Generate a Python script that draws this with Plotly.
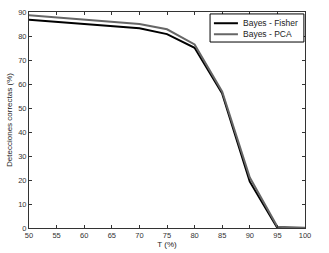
import plotly.graph_objects as go

T = [50, 55, 60, 65, 70, 75, 80, 85, 90, 95, 100]
fisher = [86.8, 85.9, 85.0, 84.1, 83.2, 80.8, 75.1, 56.0, 19.3, 0.0, 0.0]
pca = [88.6, 87.7, 86.8, 85.9, 85.0, 82.8, 76.5, 56.8, 21.0, 0.5, 0.1]

names = ["Bayes - Fisher", "Bayes - PCA"]
colors = ["#000000", "#666666"]

xticks = [50, 55, 60, 65, 70, 75, 80, 85, 90, 95, 100]
yticks = [0, 10, 20, 30, 40, 50, 60, 70, 80, 90]

fig = go.Figure()
for vals, nm, col in zip([fisher, pca], names, colors):
    fig.add_trace(go.Scatter(x=T, y=vals, mode="lines", name=nm,
                             line=dict(color=col, width=2), showlegend=False))

axis_common = dict(showgrid=False, zeroline=False, showline=True, linecolor="#333333",
                   linewidth=1, mirror="ticks", ticks="inside", ticklen=3,
                   tickcolor="#333333", tickfont=dict(size=7.5, color="#333333"),
                   automargin=False)

# legend box drawn manually (MATLAB-style compact legend)
lx0, lx1, ly0, ly1 = 0.656, 0.996, 0.861, 0.991
shapes = [dict(type="rect", xref="paper", yref="paper", x0=lx0, x1=lx1, y0=ly0, y1=ly1,
               line=dict(color="#000000", width=1), fillcolor="white", layer="above")]
annotations = []
for i, (nm, col) in enumerate(zip(names, colors)):
    yy = 0.948 - i * 0.051
    shapes.append(dict(type="line", xref="paper", yref="paper", x0=0.670, x1=0.757,
                       y0=yy, y1=yy, line=dict(color=col, width=2), layer="above"))
    annotations.append(dict(xref="paper", yref="paper", x=0.768, y=yy, text=nm,
                            showarrow=False, xanchor="left", yanchor="middle",
                            font=dict(size=8.5, color="#222222")))

fig.update_layout(
    width=329, height=253,
    margin=dict(l=29, r=24, t=12, b=25),
    paper_bgcolor="white", plot_bgcolor="white",
    font=dict(family="Liberation Sans, Arial, sans-serif", size=8, color="#222222"),
    xaxis=dict(range=[50, 100], tickvals=xticks,
               title=dict(text="T (%)", font=dict(size=8), standoff=2), **axis_common),
    yaxis=dict(range=[0, 90], tickvals=yticks,
               title=dict(text="Detecciones correctas (%)", font=dict(size=8), standoff=4),
               **axis_common),
    shapes=shapes,
    annotations=annotations,
    showlegend=False,
)

fig.write_html("out.html", config={"displayModeBar": False},
               post_script="document.body.style.margin='0';")
